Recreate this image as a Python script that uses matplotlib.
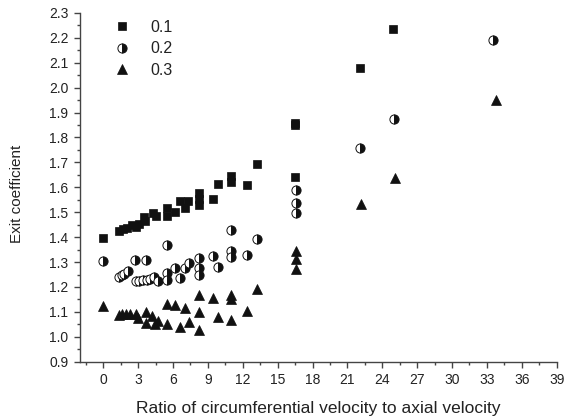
import matplotlib
matplotlib.use("Agg")
import matplotlib.pyplot as plt
from matplotlib.ticker import MultipleLocator, FormatStrFormatter

plt.rcParams['font.family'] = ['Liberation Sans', 'DejaVu Sans']

x_01 = [0, 1.38, 1.72, 2.06, 2.49, 2.78, 3.06, 3.5, 3.63, 4.29, 4.55, 5.44, 5.44, 6.15,
        6.58, 7.07, 7.3, 8.21, 8.21, 8.21, 9.42, 9.85, 11.0, 11.0, 12.33, 13.2, 16.45,
        16.5, 16.5, 22.05, 24.9]
y_01 = [1.397, 1.424, 1.431, 1.437, 1.447, 1.441, 1.451, 1.482, 1.464, 1.498, 1.484,
        1.518, 1.485, 1.502, 1.545, 1.518, 1.545, 1.578, 1.553, 1.53, 1.555, 1.613,
        1.646, 1.622, 1.608, 1.694, 1.64, 1.85, 1.86, 2.079, 2.237]

x_02 = [0, 1.38, 1.6, 1.82, 2.12, 2.7, 2.78, 3.1, 3.4, 3.64, 3.75, 4.06, 4.35, 4.69,
        5.48, 5.48, 5.48, 6.18, 6.58, 7.04, 7.34, 8.21, 8.21, 8.21, 9.43, 9.86, 11.03,
        11.03, 11.03, 12.38, 13.2, 16.56, 16.56, 16.56, 22.05, 24.97, 33.56]
y_02 = [1.305, 1.242, 1.247, 1.254, 1.265, 1.31, 1.223, 1.223, 1.226, 1.31, 1.226, 1.23,
        1.238, 1.224, 1.369, 1.256, 1.227, 1.277, 1.235, 1.276, 1.297, 1.317, 1.277,
        1.248, 1.324, 1.281, 1.428, 1.346, 1.321, 1.328, 1.393, 1.59, 1.536, 1.496,
        1.757, 1.876, 2.193]

x_03 = [0, 1.32, 1.63, 1.95, 2.29, 2.78, 2.95, 3.64, 3.64, 4.16, 4.41, 4.75, 5.48, 5.48,
        6.2, 6.62, 7.07, 7.35, 8.21, 8.21, 8.21, 9.43, 9.86, 11.03, 11.03, 11.03,
        12.38, 13.23, 16.6, 16.6, 16.6, 22.15, 25.08, 33.8]
y_03 = [1.124, 1.087, 1.09, 1.09, 1.09, 1.093, 1.076, 1.099, 1.056, 1.083, 1.05, 1.064,
        1.05, 1.131, 1.127, 1.039, 1.117, 1.059, 1.169, 1.098, 1.026, 1.156, 1.078, 1.169,
        1.153, 1.069, 1.104, 1.193, 1.344, 1.313, 1.271, 1.531, 1.637, 1.952]

labels = ['0.1', '0.2', '0.3']

fig = plt.figure(figsize=(5.65, 4.16), dpi=100)
ax = fig.add_axes([0.1416, 0.1305, 0.8437, 0.8385])

mk = '#111111'
ax.plot(x_01, y_01, linestyle='none', marker='s', markersize=6.0, color=mk,
        markeredgewidth=0.5, label=labels[0])
ax.plot(x_02, y_02, linestyle='none', marker='o', markersize=6.6, color=mk,
        markerfacecolor=mk, markerfacecoloralt='white', fillstyle='right',
        markeredgecolor=mk, markeredgewidth=0.7, label=labels[1])
ax.plot(x_03, y_03, linestyle='none', marker='^', markersize=7.6, color=mk,
        markeredgewidth=0.5, label=labels[2])

ax.set_xlim(-2, 39)
ax.set_ylim(0.9, 2.3)
ax.xaxis.set_major_locator(MultipleLocator(3))
ax.xaxis.set_minor_locator(MultipleLocator(1.5))
ax.yaxis.set_major_locator(MultipleLocator(0.1))
ax.yaxis.set_minor_locator(MultipleLocator(0.05))
ax.yaxis.set_major_formatter(FormatStrFormatter('%.1f'))

for s in ['top', 'right']:
    ax.spines[s].set_visible(False)
for s in ['left', 'bottom']:
    ax.spines[s].set_color('#444444')
    ax.spines[s].set_linewidth(1.0)

ax.tick_params(axis='both', which='major', direction='out', length=4.3, width=1.0,
               color='#444444', labelsize=10, labelcolor='#222222', pad=4)
ax.tick_params(axis='both', which='minor', direction='out', length=2.4, width=1.0,
               color='#444444')

ax.set_xlabel('Ratio of circumferential velocity to axial velocity', fontsize=12.5,
              color='#222222')
ax.set_ylabel('Exit coefficient', fontsize=11, color='#222222')
ax.xaxis.set_label_coords(0.5, -0.113)
ax.yaxis.set_label_coords(-0.117, 0.48)

leg = ax.legend(loc='upper left', bbox_to_anchor=(0.072, 0.98), frameon=False,
                fontsize=11.5, handlelength=1.0, handletextpad=1.25, labelspacing=0.4,
                borderaxespad=0.0, borderpad=0.0)
for t in leg.get_texts():
    t.set_color('#222222')

fig.savefig('out.png', dpi=100)
